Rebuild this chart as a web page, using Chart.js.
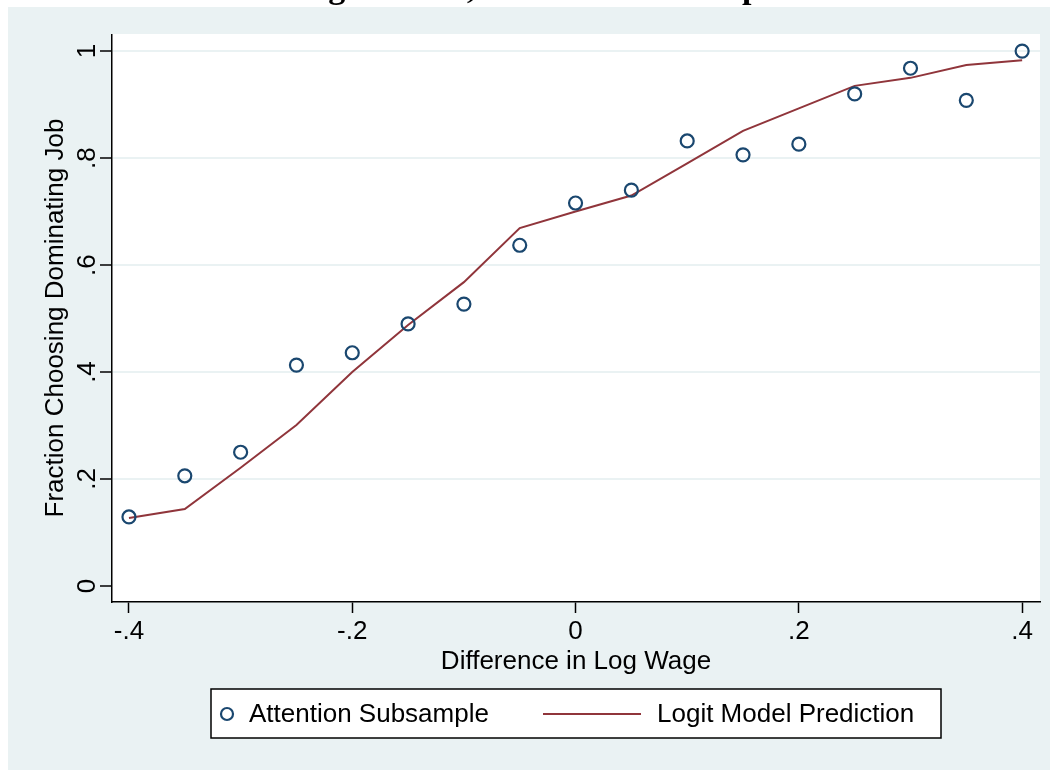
<!DOCTYPE html>
<html>
<head>
<meta charset="utf-8">
<script src="https://cdn.jsdelivr.net/npm/chart.js@4.4.1/dist/chart.umd.min.js"></script>
<style>
  body { margin: 0; background: #fff; }
  canvas { display: block; }
</style>
</head>
<body>
<canvas id="chart" width="1050" height="770"></canvas>
<script>
// Data
const logWageDiff = [-0.4, -0.35, -0.3, -0.25, -0.2, -0.15, -0.1, -0.05, 0, 0.05, 0.1, 0.15, 0.2, 0.25, 0.3, 0.35, 0.4];
const attentionShare = [0.129, 0.206, 0.250, 0.413, 0.436, 0.490, 0.527, 0.637, 0.716, 0.740, 0.832, 0.806, 0.826, 0.920, 0.968, 0.908, 1.000];
const logitPrediction = [0.127, 0.144, 0.221, 0.301, 0.400, 0.488, 0.568, 0.669, 0.700, 0.730, 0.790, 0.851, 0.893, 0.935, 0.950, 0.974, 0.983];
const xTicks = [-0.4, -0.2, 0, 0.2, 0.4];
const yTicks = [0, 0.2, 0.4, 0.6, 0.8, 1];
const xTickLabels = ['-.4', '-.2', '0', '.2', '.4'];
const yTickLabels = ['0', '.2', '.4', '.6', '.8', '1'];

const navy = '#1a476f';
const maroon = '#90353b';
const bgColor = '#eaf2f3';
const sans = "'Liberation Sans', Arial, sans-serif";

// Stata-like frame, plot region, rotated y labels, titles and legend
const stataLook = {
  id: 'stataLook',
  beforeDraw(chart) {
    const ctx = chart.ctx;
    const a = chart.chartArea;
    ctx.save();
    ctx.fillStyle = '#fff';
    ctx.fillRect(0, 0, chart.width, chart.height);
    ctx.fillStyle = bgColor;
    ctx.fillRect(8, 7, chart.width - 8, chart.height - 7);
    ctx.fillStyle = '#fff';
    ctx.fillRect(a.left, a.top, a.right - a.left, a.bottom - a.top);
    ctx.restore();
  },
  afterDraw(chart) {
    const ctx = chart.ctx;
    const a = chart.chartArea;
    const ys = chart.scales.y;
    ctx.save();

    // title, mostly cut off by the top edge
    ctx.fillStyle = '#000';
    ctx.font = "bold 34px 'Liberation Serif', serif";
    ctx.textAlign = 'center';
    ctx.textBaseline = 'alphabetic';
    ctx.fillText('Logit Model, Attentive Subsample', 537, -2);
    ctx.fillStyle = bgColor;
    ctx.fillRect(8, 7, chart.width - 8, a.top - 7);

    // y tick labels (rotated)
    ctx.fillStyle = '#000';
    ctx.font = '26px ' + sans;
    yTicks.forEach((v, i) => {
      ctx.save();
      ctx.translate(95, ys.getPixelForValue(v));
      ctx.rotate(-Math.PI / 2);
      ctx.textAlign = 'center';
      ctx.textBaseline = 'alphabetic';
      ctx.fillText(yTickLabels[i], 0, 0);
      ctx.restore();
    });

    // axis titles
    ctx.save();
    ctx.translate(63, (a.top + a.bottom) / 2);
    ctx.rotate(-Math.PI / 2);
    ctx.textAlign = 'center';
    ctx.fillText('Fraction Choosing Dominating Job', 0, 0);
    ctx.restore();
    ctx.textAlign = 'center';
    ctx.fillText('Difference in Log Wage', (a.left + a.right) / 2, 669);

    // legend
    ctx.fillStyle = '#fff';
    ctx.fillRect(211, 689, 730, 49);
    ctx.strokeStyle = '#000';
    ctx.lineWidth = 1.5;
    ctx.strokeRect(211, 689, 730, 49);
    ctx.strokeStyle = navy;
    ctx.lineWidth = 2.2;
    ctx.beginPath();
    ctx.arc(227, 714, 6, 0, Math.PI * 2);
    ctx.stroke();
    ctx.strokeStyle = maroon;
    ctx.lineWidth = 2;
    ctx.beginPath();
    ctx.moveTo(543, 714);
    ctx.lineTo(641, 714);
    ctx.stroke();
    ctx.fillStyle = '#000';
    ctx.textAlign = 'left';
    ctx.textBaseline = 'middle';
    ctx.fillText('Attention Subsample', 249, 715);
    ctx.fillText('Logit Model Prediction', 657, 715);
    ctx.restore();
  }
};

new Chart(document.getElementById('chart'), {
  type: 'scatter',
  data: {
    datasets: [
      {
        label: 'Logit Model Prediction',
        data: logWageDiff.map((x, i) => ({ x, y: logitPrediction[i] })),
        showLine: true,
        borderColor: maroon,
        borderWidth: 2,
        pointRadius: 0,
        tension: 0,
        order: 2
      },
      {
        label: 'Attention Subsample',
        data: logWageDiff.map((x, i) => ({ x, y: attentionShare[i] })),
        showLine: false,
        pointRadius: 6.5,
        pointBorderWidth: 2.2,
        pointBorderColor: navy,
        pointBackgroundColor: 'rgba(0,0,0,0)',
        order: 1
      }
    ]
  },
  options: {
    responsive: false,
    animation: false,
    devicePixelRatio: 1,
    layout: { padding: { left: 0, top: 34, right: 10, bottom: 0 } },
    plugins: {
      legend: { display: false },
      tooltip: { enabled: false }
    },
    scales: {
      x: {
        type: 'linear',
        min: -0.4152,
        max: 0.416,
        afterBuildTicks: s => { s.ticks = xTicks.map(v => ({ value: v })); },
        afterFit: s => { s.height = 168; },
        ticks: {
          color: '#000',
          font: { family: sans, size: 26 },
          padding: 3,
          maxRotation: 0,
          callback: (v) => xTickLabels[xTicks.findIndex(t => Math.abs(t - v) < 1e-9)]
        },
        grid: {
          drawOnChartArea: false,
          tickColor: '#000',
          tickLength: 11,
          tickWidth: 1.5
        },
        border: { display: true, color: '#000', width: 1.5 }
      },
      y: {
        type: 'linear',
        min: -0.03,
        max: 1.032,
        afterBuildTicks: s => { s.ticks = yTicks.map(v => ({ value: v })); },
        afterFit: s => { s.width = 112; },
        ticks: { display: false },
        grid: {
          color: v => v.tick && v.tick.value === 0 ? 'rgba(0,0,0,0)' : bgColor,
          lineWidth: 2,
          tickColor: '#000',
          tickLength: 12,
          tickWidth: 1.5
        },
        border: { display: true, color: '#000', width: 1.5 }
      }
    }
  },
  plugins: [stataLook]
});
</script>
</body>
</html>
